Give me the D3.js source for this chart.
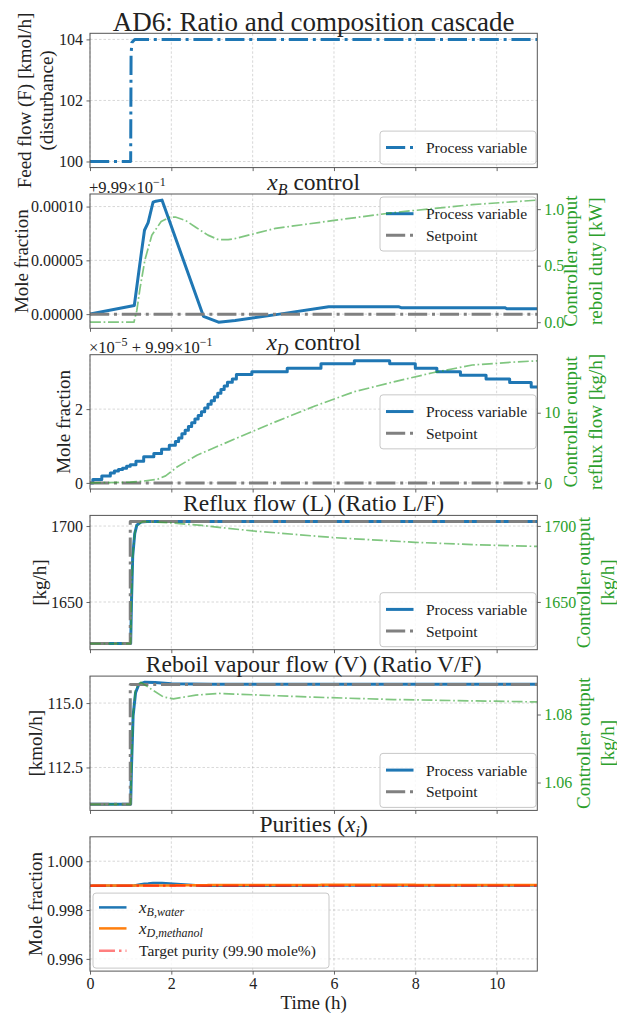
<!DOCTYPE html>
<html>
<head>
<meta charset="utf-8">
<script src="https://cdn.jsdelivr.net/npm/d3@7"></script>
<style>
  body { margin: 0; background: #fff; }
  text { font-family: "Liberation Serif", "DejaVu Serif", serif; fill: #222; }
</style>
</head>
<body>
<div id="chart"></div>
<script>
// ---- data (time in hours) ----
const timeTicks = [0, 2, 4, 6, 8, 10];

// feed flow disturbance [kmol/h]
const feedFlow = [[0, 100], [1.0, 100], [1.01, 103.5], [1.03, 103.9], [1.1, 104.0], [11, 104.0]];
const feedTicks = [100, 102, 104];

// xB control: process variable offset from 0.999, in units of 1e-5
const xbPV = [[0, 0], [1.09, 0.8], [1.22, 4.5], [1.34, 7.8], [1.43, 8.5], [1.55, 10.4], [1.62, 10.5],
  [1.77, 10.6], [2.79, -0.2], [3.16, -0.75], [3.57, -0.6], [4.66, 0], [5.87, 0.68], [7.6, 0.68],
  [7.65, 0.6], [10.2, 0.6], [10.25, 0.5], [11, 0.5]];
const xbSP = [[0, 0], [11, 0]];
// reboil duty [kW]
const xbOut = [[0, 0], [1.08, 0], [1.15, 0.1], [1.23, 0.3], [1.35, 0.55], [1.52, 0.77], [1.75, 0.89],
  [1.97, 0.93], [2.1, 0.93], [2.35, 0.9], [2.6, 0.84], [2.9, 0.77], [3.16, 0.73], [3.4, 0.73],
  [3.57, 0.74], [4.56, 0.83], [6.0, 0.9], [7.47, 0.97], [9.4, 1.04], [11, 1.08]];
const xbTicks = [0, 5, 10];
const xbOutTicks = [0, 0.5, 1.0];

// xD control: process variable offset from 0.999, in units of 1e-5 (stepped)
const xdPV = [[0, 0], [0.07, 0.09], [0.29, 0.19], [0.5, 0.27], [0.6, 0.32], [0.7, 0.36], [0.8, 0.4],
  [0.9, 0.45], [0.99, 0.49], [1.13, 0.59], [1.32, 0.71], [1.57, 0.8], [1.76, 0.91], [1.95, 1.02],
  [2.1, 1.12], [2.18, 1.22], [2.26, 1.33], [2.34, 1.43], [2.42, 1.53], [2.5, 1.63], [2.58, 1.73],
  [2.66, 1.83], [2.74, 1.93], [2.82, 2.03], [2.9, 2.13], [2.98, 2.23], [3.06, 2.33], [3.14, 2.43],
  [3.22, 2.53], [3.3, 2.63], [3.38, 2.73], [3.5, 2.82], [3.6, 2.94], [3.98, 3.01], [4.85, 3.11],
  [5.68, 3.23], [6.5, 3.31], [7.37, 3.23], [8.0, 3.11], [8.53, 3.01], [9.11, 2.92], [9.74, 2.82],
  [10.32, 2.72], [10.85, 2.6], [11, 2.6]];
const xdSP = [[0, 0], [11, 0]];
// reflux flow [kg/h]
const xdOut = [[0, 0], [0.99, 0.1], [1.3, 0.25], [1.66, 0.52], [1.86, 1.0], [2.15, 2.3], [2.63, 3.95],
  [3.11, 5.14], [3.98, 7.3], [4.56, 8.7], [5.53, 10.95], [6.5, 13.0], [7.47, 14.4], [8.43, 15.7],
  [9.4, 16.8], [10.37, 17.2], [11, 17.4]];
const xdTicks = [0, 2];
const xdOutTicks = [0, 10];

// reflux flow L [kg/h]
const refluxPV = [[0, 1622.6], [1.0, 1622.6], [1.02, 1650], [1.05, 1680], [1.1, 1695], [1.15, 1700.5],
  [1.25, 1702.6], [1.4, 1703], [11, 1703]];
const refluxSP = [[0, 1622.6], [0.99, 1622.6], [0.99, 1703], [11, 1703]];
const refluxOut = [[0, 1622.6], [1.0, 1622.6], [1.02, 1650], [1.05, 1680], [1.1, 1695], [1.15, 1700.5],
  [1.3, 1702.9], [2.0, 1702.0], [2.75, 1700.3], [4.0, 1696.7], [6.0, 1692.3], [8.0, 1689.2],
  [9.5, 1687.6], [11, 1686.5]];
const refluxTicks = [1650, 1700];

// reboil vapour flow V [kmol/h]
const reboilPV = [[0, 111.07], [1.0, 111.07], [1.02, 112.5], [1.06, 114.5], [1.12, 115.4], [1.2, 115.72],
  [1.35, 115.81], [1.6, 115.8], [2.0, 115.75], [3, 115.73], [11, 115.73]];
const reboilSP = [[0, 111.07], [0.99, 111.07], [0.99, 115.72], [11, 115.72]];
const reboilOut = [[0, 1.0536], [1.0, 1.0536], [1.02, 1.064], [1.06, 1.08], [1.12, 1.0875], [1.25, 1.0895],
  [1.5, 1.0875], [1.8, 1.0852], [2.05, 1.0846], [2.6, 1.0857], [3.16, 1.0862], [4.0, 1.0858],
  [5.5, 1.0851], [7.47, 1.0844], [9.5, 1.084], [11, 1.0837]];
const reboilTicks = [112.5, 115.0];
const reboilOutTicks = [1.06, 1.08];

// purities
const targetPurity = 0.999;
const purityTicks = [0.996, 0.998, 1.000];
const purityLimits = [0.9955, 1.001];

// ---- layout ----
const W = 617, H = 1013;
const plotLeft = 90, plotRight = 537.3;
const panelTop0 = 33.3, panelStep = 160.7, panelH = 134.3;
const blue = "#1f77b4", orange = "#ff7f0e", green = "#2ca02c", gray = "#808080", spine = "#555";
const serif = '"Liberation Serif", "DejaVu Serif", serif';

const svg = d3.select("#chart").append("svg")
  .attr("width", W)
  .attr("height", H);

const x = d3.scaleLinear().domain([0, 11]).range([plotLeft, plotRight]);

const dashdot = w => [6.4 * w, 1.6 * w, 1 * w, 1.6 * w].join(",");

function padded(series) {
  const vals = series.flat().map(d => d[1]);
  const [a, b] = d3.extent(vals);
  const m = (b - a) * 0.05;
  return [a - m, b + m];
}

function drawLine(g, y, s) {
  const line = d3.line()
    .x(d => x(d[0]))
    .y(d => y(d[1]))
    .curve(s.curve || d3.curveLinear);
  g.append("path")
    .datum(s.data)
    .attr("fill", "none")
    .attr("stroke", s.color)
    .attr("stroke-width", s.width)
    .attr("stroke-opacity", s.opacity || 1)
    .attr("stroke-dasharray", s.dash ? dashdot(s.width) : null)
    .attr("stroke-linejoin", "round")
    .attr("d", line);
}

function sampleLine(g, x0, x1, yy, s) {
  g.append("line")
    .attr("x1", x0).attr("x2", x1).attr("y1", yy).attr("y2", yy)
    .attr("stroke", s.color)
    .attr("stroke-width", s.width)
    .attr("stroke-opacity", s.opacity || 1)
    .attr("stroke-dasharray", s.dash ? dashdot(s.width) : null);
}

function drawLegend(g, box, entries) {
  g.append("rect")
    .attr("x", box.x).attr("y", box.y)
    .attr("width", box.w).attr("height", box.h)
    .attr("rx", 3)
    .attr("fill", "#fff").attr("fill-opacity", 0.8)
    .attr("stroke", "#c8c8c8").attr("stroke-width", 1);
  entries.forEach(e => {
    const yy = box.y + e.dy;
    sampleLine(g, box.x + 6, box.x + 33.5, yy, e.style);
    const t = g.append("text")
      .attr("x", box.x + 46)
      .attr("y", yy)
      .attr("dominant-baseline", "central")
      .style("font-size", "15.5px");
    if (typeof e.label === "function") e.label(t); else t.text(e.label);
  });
}

function ylabel(g, lines, xs, cy, color, size) {
  lines.forEach((l, i) => {
    g.append("text")
      .attr("x", xs[i]).attr("y", cy)
      .attr("transform", `rotate(-90,${xs[i]},${cy})`)
      .attr("text-anchor", "middle")
      .attr("dominant-baseline", "central")
      .style("font-size", (size || 19) + "px")
      .style("fill", color || "#222")
      .text(l);
  });
}

function styleAxis(a, color) {
  a.attr("font-family", serif).attr("font-size", 16);
  a.select(".domain").remove();
  a.selectAll(".tick line").attr("stroke", spine).attr("stroke-width", 0.9);
  a.selectAll(".tick text")
    .style("font-family", serif)
    .style("font-size", "16px")
    .style("fill", color || "#222");
}

function panel(i, o) {
  const top = panelTop0 + i * panelStep, bottom = top + panelH;
  const g = svg.append("g");
  const y = d3.scaleLinear().domain(o.yDomain).range([bottom, top]);

  g.append("clipPath").attr("id", "clip" + i)
    .append("rect").attr("x", plotLeft).attr("y", top)
    .attr("width", plotRight - plotLeft).attr("height", panelH);

  // grid
  const grid = g.append("g")
    .attr("stroke", "#b0b0b0").attr("stroke-width", 0.7)
    .attr("stroke-dasharray", "2.5,2").attr("stroke-opacity", 0.7);
  timeTicks.forEach(t => grid.append("line")
    .attr("x1", x(t)).attr("x2", x(t)).attr("y1", top).attr("y2", bottom));
  o.yTicks.forEach(v => grid.append("line")
    .attr("x1", plotLeft).attr("x2", plotRight).attr("y1", y(v)).attr("y2", y(v)));

  const plot = g.append("g").attr("clip-path", `url(#clip${i})`);
  o.series.forEach(s => drawLine(plot, y, s));

  // axes
  const ax = g.append("g").attr("transform", `translate(${plotLeft},0)`)
    .call(d3.axisLeft(y).tickValues(o.yTicks).tickFormat(o.yFormat).tickSize(3.5).tickPadding(3.5));
  styleAxis(ax);

  const xa = g.append("g").attr("transform", `translate(0,${bottom})`)
    .call(d3.axisBottom(x).tickValues(timeTicks).tickSize(3.5).tickPadding(3.5)
      .tickFormat(o.xLabels ? d3.format("d") : ""));
  styleAxis(xa);

  if (o.legend) drawLegend(g, o.legend.box, o.legend.entries);

  // right axis
  if (o.right) {
    const y2 = d3.scaleLinear().domain(o.right.domain).range([bottom, top]);
    const plot2 = g.append("g").attr("clip-path", `url(#clip${i})`);
    o.right.series.forEach(s => drawLine(plot2, y2, s));
    const ra = g.append("g").attr("transform", `translate(${plotRight},0)`)
      .call(d3.axisRight(y2).tickValues(o.right.ticks).tickFormat(o.right.format).tickSize(3.5).tickPadding(3.5));
    styleAxis(ra, green);
    ylabel(g, o.right.label, o.right.labelX, (top + bottom) / 2, green);
  }

  // frame
  g.append("rect")
    .attr("x", plotLeft).attr("y", top)
    .attr("width", plotRight - plotLeft).attr("height", panelH)
    .attr("fill", "none").attr("stroke", spine).attr("stroke-width", 1);

  // title
  const tt = g.append("text")
    .attr("x", (plotLeft + plotRight) / 2)
    .attr("y", top - (o.titleSize > 24 ? 2.5 : 4.5))
    .attr("text-anchor", "middle")
    .style("font-size", o.titleSize + "px");
  if (typeof o.title === "function") o.title(tt); else tt.text(o.title);

  ylabel(g, o.ylabel, o.ylabelX, (top + bottom) / 2);

  if (o.offset) {
    const ot = g.append("text").attr("x", plotLeft - 1).attr("y", top - 1.5).style("font-size", "16.5px");
    o.offset(ot);
  }
  return { top, bottom, y };
}

const pvStyle = { color: blue, width: 3 };
const spStyle = { color: gray, width: 3, dash: true };
const outStyle = { color: green, width: 1.7, dash: true, opacity: 0.6 };
const legendX = 380, legendW = 156;

// panel 1: feed flow
const p1bot = panelTop0 + panelH;
panel(0, {
  title: "AD6: Ratio and composition cascade", titleSize: 27,
  yDomain: padded([feedFlow]), yTicks: feedTicks, yFormat: d3.format("d"),
  series: [{ data: feedFlow, color: blue, width: 3, dash: true }],
  ylabel: ["Feed flow (F) [kmol/h]", "(disturbance)"], ylabelX: [25, 47],
  legend: {
    box: { x: legendX, y: p1bot - 3.5 - 33, w: legendW, h: 33 },
    entries: [{ dy: 16.5, label: "Process variable", style: { color: blue, width: 3, dash: true } }]
  }
});

// panel 2: xB control
const p2top = panelTop0 + panelStep;
panel(1, {
  title: t => {
    t.append("tspan").style("font-style", "italic").text("x");
    t.append("tspan").style("font-style", "italic").style("font-size", "16px").attr("dy", 5).text("B");
    t.append("tspan").attr("dy", -5).text(" control");
  },
  titleSize: 23.5,
  yDomain: padded([xbPV, xbSP]), yTicks: xbTicks, yFormat: d => d3.format(".5f")(d * 1e-5),
  series: [{ data: xbPV, ...pvStyle }, { data: xbSP, ...spStyle }],
  ylabel: ["Mole fraction"], ylabelX: [21.7],
  offset: t => { t.append("tspan").text("+9.99×10"); t.append("tspan").attr("dy", -7).style("font-size", "12px").text("−1"); },
  legend: {
    box: { x: legendX, y: p2top + 3, w: legendW, h: 54 },
    entries: [{ dy: 16.7, label: "Process variable", style: pvStyle }, { dy: 38.3, label: "Setpoint", style: spStyle }]
  },
  right: {
    domain: padded([xbOut]), ticks: xbOutTicks, format: d3.format(".1f"),
    series: [{ data: xbOut, ...outStyle }],
    label: ["Controller output", "reboil duty [kW]"], labelX: [571, 595.5]
  }
});

// panel 3: xD control
const p3top = panelTop0 + 2 * panelStep;
panel(2, {
  title: t => {
    t.append("tspan").style("font-style", "italic").text("x");
    t.append("tspan").style("font-style", "italic").style("font-size", "16px").attr("dy", 5).text("D");
    t.append("tspan").attr("dy", -5).text(" control");
  },
  titleSize: 23.5,
  yDomain: padded([xdPV, xdSP]), yTicks: xdTicks, yFormat: d3.format("d"),
  series: [{ data: xdPV, ...pvStyle, curve: d3.curveStepAfter }, { data: xdSP, ...spStyle }],
  ylabel: ["Mole fraction"], ylabelX: [64],
  offset: t => {
    t.append("tspan").text("×10"); t.append("tspan").attr("dy", -7).style("font-size", "12px").text("−5");
    t.append("tspan").attr("dy", 7).text(" + 9.99×10");
    t.append("tspan").attr("dy", -7).style("font-size", "12px").text("−1");
  },
  legend: {
    box: { x: legendX, y: p3top + panelH / 2 - 27, w: legendW, h: 54 },
    entries: [{ dy: 16.7, label: "Process variable", style: pvStyle }, { dy: 38.3, label: "Setpoint", style: spStyle }]
  },
  right: {
    domain: padded([xdOut]), ticks: xdOutTicks, format: d3.format("d"),
    series: [{ data: xdOut, ...outStyle }],
    label: ["Controller output", "reflux flow [kg/h]"], labelX: [571, 595.5]
  }
});

// panel 4: reflux flow
const p4bot = panelTop0 + 3 * panelStep + panelH;
panel(3, {
  title: "Reflux flow (L) (Ratio L/F)", titleSize: 23.5,
  yDomain: padded([refluxPV, refluxSP]), yTicks: refluxTicks, yFormat: d3.format("d"),
  series: [{ data: refluxPV, ...pvStyle }, { data: refluxSP, ...spStyle }],
  ylabel: ["[kg/h]"], ylabelX: [39.5],
  legend: {
    box: { x: legendX, y: p4bot - 3 - 54, w: legendW, h: 54 },
    entries: [{ dy: 16.7, label: "Process variable", style: pvStyle }, { dy: 38.3, label: "Setpoint", style: spStyle }]
  },
  right: {
    domain: padded([refluxOut]), ticks: refluxTicks, format: d3.format("d"),
    series: [{ data: refluxOut, ...outStyle }],
    label: ["Controller output", "[kg/h]"], labelX: [584, 607.5]
  }
});

// panel 5: reboil vapour flow
const p5bot = panelTop0 + 4 * panelStep + panelH;
panel(4, {
  title: "Reboil vapour flow (V) (Ratio V/F)", titleSize: 23.5,
  yDomain: padded([reboilPV, reboilSP]), yTicks: reboilTicks, yFormat: d3.format(".1f"),
  series: [{ data: reboilPV, ...pvStyle }, { data: reboilSP, ...spStyle }],
  ylabel: ["[kmol/h]"], ylabelX: [35.6],
  legend: {
    box: { x: legendX, y: p5bot - 3 - 54, w: legendW, h: 54 },
    entries: [{ dy: 16.7, label: "Process variable", style: pvStyle }, { dy: 38.3, label: "Setpoint", style: spStyle }]
  },
  right: {
    domain: padded([reboilOut]), ticks: reboilOutTicks, format: d3.format(".2f"),
    series: [{ data: reboilOut, ...outStyle }],
    label: ["Controller output", "[kg/h]"], labelX: [583, 607]
  }
});

// panel 6: purities
const xbPurity = xbPV.map(d => [d[0], targetPurity + d[1] * 1e-5]);
const xdPurity = xdPV.map(d => [d[0], targetPurity + d[1] * 1e-5]);
const targetLine = [[0, targetPurity], [11, targetPurity]];
const p6bot = panelTop0 + 5 * panelStep + panelH;
const mathLabel = (sub) => t => {
  t.append("tspan").style("font-style", "italic").style("font-size", "17px").text("x");
  t.append("tspan").style("font-style", "italic").style("font-size", "12px").attr("dy", 5).text(sub);
};
panel(5, {
  title: t => {
    t.append("tspan").text("Purities (");
    t.append("tspan").style("font-style", "italic").text("x");
    t.append("tspan").style("font-style", "italic").style("font-size", "16px").attr("dy", 5).text("i");
    t.append("tspan").attr("dy", -5).text(")");
  },
  titleSize: 23.5,
  yDomain: purityLimits, yTicks: purityTicks, yFormat: d3.format(".3f"),
  series: [
    { data: xbPurity, color: blue, width: 2.5 },
    { data: xdPurity, color: orange, width: 2.5, curve: d3.curveStepAfter },
    { data: targetLine, color: "red", width: 2.5, dash: true, opacity: 0.5 }
  ],
  ylabel: ["Mole fraction"], ylabelX: [35.6],
  xLabels: true,
  legend: {
    box: { x: 93, y: p6bot - 3 - 75, w: 236, h: 75 },
    entries: [
      { dy: 14.3, label: mathLabel("B,water"), style: { color: blue, width: 2.5 } },
      { dy: 35.3, label: mathLabel("D,methanol"), style: { color: orange, width: 2.5 } },
      { dy: 57.7, label: "Target purity (99.90 mole%)", style: { color: "red", width: 2.5, dash: true, opacity: 0.5 } }
    ]
  }
});

svg.append("text")
  .attr("x", (plotLeft + plotRight) / 2)
  .attr("y", 1008.5)
  .attr("text-anchor", "middle")
  .style("font-size", "19px")
  .text("Time (h)");
</script>
</body>
</html>
